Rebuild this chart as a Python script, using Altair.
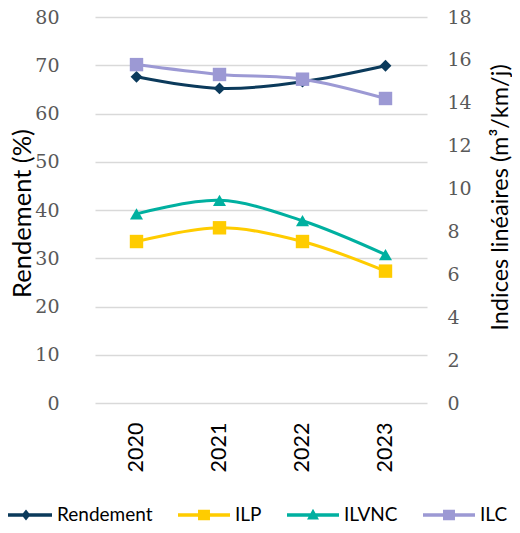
import altair as alt
import pandas as pd

years = ["2020", "2021", "2022", "2023"]
rendement = [67.6, 65.2, 66.6, 69.9]
ilp = [7.53, 8.17, 7.53, 6.15]
ilvnc = [8.82, 9.45, 8.50, 6.92]
ilc = [15.78, 15.32, 15.10, 14.20]

series_names = ["Rendement", "ILP", "ILVNC", "ILC"]
colors = ["#0b3a5b", "#ffcc00", "#00b0a0", "#9c99d4"]
left_ticks = list(range(0, 81, 10))
right_ticks = list(range(0, 19, 2))

rows = []
for name, vals in zip(series_names, [rendement, ilp, ilvnc, ilc]):
    for yr, v in zip(years, vals):
        rows.append({"year": yr, "series": name, "value": v})
df = pd.DataFrame(rows)

SANS = "Lato"
SERIF = "DejaVu Serif"

x_enc = alt.X(
    "year:O",
    scale=alt.Scale(padding=0.5),
    axis=alt.Axis(title=None, labelAngle=270, labelFont=SANS, labelFontSize=21.5,
                  labelColor="#000000", labelPadding=19, domain=False, ticks=False, grid=False),
)

y_left = alt.Y(
    "value:Q",
    scale=alt.Scale(domain=[0, 80], nice=False),
    axis=alt.Axis(values=left_ticks, title="Rendement (%)", titleFont=SANS, titleFontSize=25.5,
                  titleFontWeight="normal", titleColor="#000000", titleAngle=270,
                  titleX=-65, titleY=196, titleAlign="center", titleBaseline="alphabetic",
                  labelFont=SERIF, labelFontSize=19, labelColor="#595959", labelPadding=36,
                  ticks=False, domain=False, grid=True, gridColor="#d9d9d9", gridWidth=1.3),
)
y_right = alt.Y(
    "value:Q",
    scale=alt.Scale(domain=[0, 18], nice=False),
    axis=alt.Axis(orient="right", values=right_ticks, title="Indices linéaires (m³/km/j)",
                  titleFont=SANS, titleFontSize=23.5, titleFontWeight="normal",
                  titleColor="#000000", titleAngle=270, titleX=80, titleY=180,
                  titleAlign="center", titleBaseline="alphabetic", labelFont=SERIF,
                  labelFontSize=19, labelColor="#595959", labelPadding=20, ticks=False,
                  domain=False, grid=False),
)

base = alt.Chart(df).encode(x=x_enc)
shapes = {"Rendement": ("diamond", 140), "ILP": ("square", 180), "ILVNC": ("triangle-up", 170), "ILC": ("square", 180)}


def series_layers(name, col, y):
    sub = base.transform_filter(alt.datum.series == name)
    line = sub.mark_line(interpolate="catmull-rom", strokeWidth=3, color=col).encode(y=y)
    shp, sz = shapes[name]
    pts = sub.mark_point(filled=True, shape=shp, size=sz, opacity=1, color=col).encode(y=y)
    return [line, pts]


left = alt.layer(*series_layers("Rendement", colors[0], y_left))

line_path = "M-1,-0.065H1V0.065H-1Z "
sq = "M-0.23,-0.2H0.23V0.2H-0.23Z"
paths = [
    line_path + "M0,-0.21L0.17,0L0,0.21L-0.17,0Z",
    line_path + sq,
    line_path + "M0,-0.24L0.23,0.17H-0.23Z",
    line_path + sq,
]

leg = alt.Legend(title=None, orient="none", legendX=-95, legendY=472, direction="horizontal",
                 columns=4, symbolSize=2704, symbolStrokeWidth=0, labelFont=SANS,
                 labelFontSize=19, labelColor="#000000", labelOffset=5, columnPadding=25)

legend_layer = alt.Chart(df).transform_filter("false").mark_point(filled=True, opacity=1).encode(
    color=alt.Color("series:N", scale=alt.Scale(domain=series_names, range=colors), legend=leg),
    shape=alt.Shape("series:N", scale=alt.Scale(domain=series_names, range=paths), legend=leg),
)

right_layers = []
for nm, col in zip(series_names[1:], colors[1:]):
    right_layers += series_layers(nm, col, y_right)
right = alt.layer(*right_layers, legend_layer)

chart = alt.layer(left, right).resolve_scale(y="independent").properties(
    width=332, height=386,
    autosize=alt.AutoSizeParams(type="none"),
    padding={"left": 87, "top": 9, "right": 85, "bottom": 122},
).configure_view(stroke=None)

chart.save("out.html", embed_options={"renderer": "svg", "actions": False})
